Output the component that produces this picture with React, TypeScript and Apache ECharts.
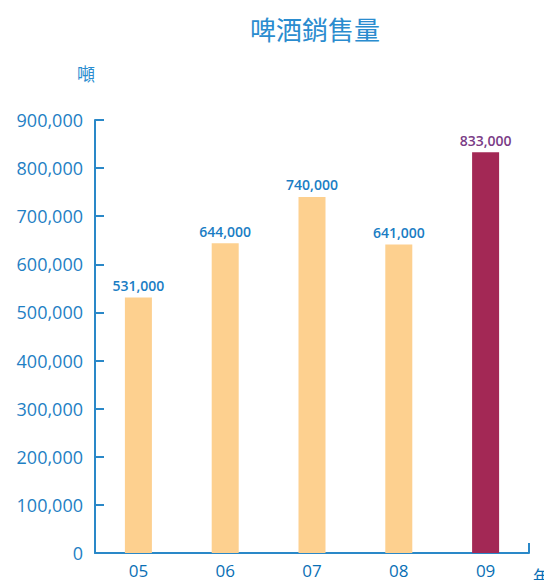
import React, { useEffect, useRef } from "react";
import * as echarts from "echarts";

const categories = ["05", "06", "07", "08", "09"];
const sales = [531000, 644000, 740000, 641000, 833000];
const highlightIndex = 4;
const titleText = "啤酒銷售量";
const yUnit = "噸";
const xUnit = "年";

const BLUE = "#1f7fc4";
const fmt = (v: number) => v.toLocaleString("en-US");

export default function App() {
  const ref = useRef<HTMLDivElement>(null);
  useEffect(() => {
    if (!ref.current) return;
    const chart = echarts.init(ref.current, null, { renderer: "svg" });
    const font = "'Open Sans', 'Noto Sans CJK TC', sans-serif";
    chart.setOption({
      animation: false,
      textStyle: { fontFamily: font },
      title: [
        { text: titleText, left: 310, top: 12, textAlign: "center", textStyle: { color: "#2a8ccf", fontSize: 26, fontWeight: "normal", fontFamily: font } },
        { text: yUnit, left: 72, top: 60, textStyle: { color: "#2a8ccf", fontSize: 18, fontWeight: "normal", fontFamily: font } },
      ],
      graphic: [
        {
          type: "text",
          right: 2,
          bottom: 3,
          style: { text: xUnit, fill: "#0a6fb5", fontSize: 17, fontFamily: font },
        },
      ],
      grid: { left: 95, right: 23, top: 120, bottom: 35, containLabel: false },
      xAxis: [
        {
          type: "category",
          data: categories,
          axisLine: { lineStyle: { color: "#2a88c8", width: 2 } },
          axisTick: { show: false },
          axisLabel: { color: "#0a6fb5", fontSize: 17, margin: 9, fontFamily: font },
        },
        {
          type: "value",
          position: "bottom",
          min: 0,
          max: 1,
          interval: 1,
          axisLine: { show: false },
          axisTick: { show: true, inside: true, length: 10, lineStyle: { color: "#2a88c8", width: 2 } },
          axisLabel: { show: false },
          splitLine: { show: false },
        },
      ],
      yAxis: {
        type: "value",
        min: 0,
        max: 900000,
        interval: 100000,
        axisLine: { show: true, lineStyle: { color: "#2a88c8", width: 2 } },
        axisTick: { show: true, inside: true, length: 9, lineStyle: { color: "#2a88c8", width: 2 } },
        splitLine: { show: false },
        axisLabel: { color: BLUE, fontSize: 18, margin: 12, formatter: (v: number) => fmt(v), fontFamily: font },
      },
      series: [
        {
          type: "bar",
          xAxisIndex: 0,
          barWidth: 27,
          data: sales.map((v, i) => ({
            value: v,
            itemStyle: { color: i === highlightIndex ? "#a32855" : "#fdd08f" },
            label: { color: i === highlightIndex ? "#7a3c86" : "#1a7dc4" },
          })),
          label: {
            show: true,
            position: "top",
            distance: 5,
            fontSize: 14,
            fontWeight: 600,
            fontFamily: font,
            formatter: (p: any) => fmt(p.value),
          },
        },
      ],
    });
    return () => chart.dispose();
  }, []);
  return <div ref={ref} style={{ width: 552, height: 588, margin: -8 }} />;
}
